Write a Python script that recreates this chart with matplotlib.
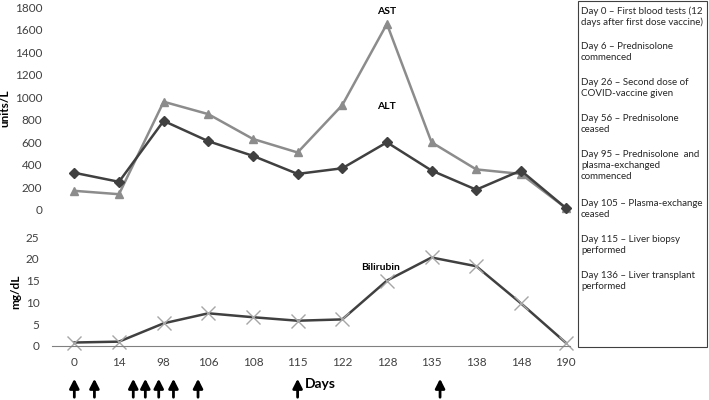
import numpy as np
import matplotlib.pyplot as plt
from matplotlib.patches import Rectangle

plt.rcParams['font.family'] = ['Lato', 'DejaVu Sans']

# data
days = ['0', '14', '98', '106', '108', '115', '122', '128', '135', '138', '148', '190']
alt = [330, 250, 790, 610, 480, 320, 370, 600, 350, 180, 350, 20]
ast = [170, 140, 960, 850, 630, 510, 930, 1650, 600, 360, 320, 20]
bilirubin = [0.8, 1.0, 5.2, 7.5, 6.6, 5.8, 6.1, 15.0, 20.3, 18.3, 9.8, 0.8]
# arrow positions on the category axis
event_pos = [0, 0.45, 1.32, 1.59, 1.89, 2.22, 2.77, 5.0, 8.19]
notes = [
    'Day 0 \u2013 First blood tests (12\ndays after first dose vaccine)',
    'Day 6 \u2013 Prednisolone\ncommenced',
    'Day 26 \u2013 Second dose of\nCOVID-vaccine given',
    'Day 56 \u2013 Prednisolone\nceased',
    'Day 95 \u2013 Prednisolone  and\nplasma-exchanged\ncommenced',
    'Day 105 \u2013 Plasma-exchange\nceased',
    'Day 115 \u2013 Liver biopsy\nperformed',
    'Day 136 \u2013 Liver transplant\nperformed',
]

W, H = 709, 400
fig = plt.figure(figsize=(W / 100, H / 100), dpi=100)

def fx(px):
    return px / W

def fy(py):
    return 1 - py / H

x = np.arange(len(days))
xl = (-0.5, 11.1)
left, right = fx(52), fx(570)

# top panel
ax1 = fig.add_axes([left, fy(210), right - left, fy(7) - fy(210)])
ax1.plot(x, ast, color='#8c8c8c', lw=1.8, marker='^', ms=6, clip_on=False)
ax1.plot(x, alt, color='#404040', lw=1.8, marker='D', ms=5, clip_on=False)
ax1.set_xlim(xl)
ax1.set_ylim(0, 1800)
ax1.set_yticks(range(0, 1801, 200))
ax1.set_xticks([])
for s in ax1.spines.values():
    s.set_visible(False)
ax1.tick_params(axis='y', length=0, labelsize=8.5, pad=7, colors='#404040')
ax1.set_ylabel('units/L', fontweight='bold', fontsize=8.5, labelpad=3)
ax1.text(7, 1720, 'AST', ha='center', va='bottom', fontweight='bold', fontsize=7.5)
ax1.text(7, 880, 'ALT', ha='center', va='bottom', fontweight='bold', fontsize=7.5)

# bottom panel
ax2 = fig.add_axes([left, fy(346), right - left, fy(237) - fy(346)])
ax2.plot(x, bilirubin, color='#404040', lw=1.8, marker='x', ms=10,
         mec='#a6a6a6', mew=1, clip_on=False)
ax2.set_xlim(xl)
ax2.set_ylim(0, 25)
ax2.set_yticks(range(0, 26, 5))
ax2.set_xticks(x)
ax2.set_xticklabels(days)
for s in ['top', 'right', 'left']:
    ax2.spines[s].set_visible(False)
ax2.spines['bottom'].set_color('#808080')
ax2.tick_params(axis='both', length=0, labelsize=8.5, colors='#404040')
ax2.tick_params(axis='y', pad=9)
ax2.tick_params(axis='x', pad=8)
ax2.set_ylabel('mg/dL', fontweight='bold', fontsize=8.5, labelpad=3)
ax2.text(6.85, 18.1, 'Bilirubin', ha='center', va='center', fontweight='bold', fontsize=7.5)

# event arrows
for p in event_pos:
    ax2.annotate('', xy=(p, fy(376)), xytext=(p, 0.0),
                 xycoords=('data', 'figure fraction'),
                 textcoords=('data', 'figure fraction'),
                 arrowprops=dict(arrowstyle='-|>,head_width=0.28,head_length=0.55',
                                 color='black', lw=2))
fig.text(fx(305), fy(384), 'Days', fontweight='bold', fontsize=10, va='center')

# notes box
fig.patches.append(Rectangle((fx(578), fy(347)), fx(707) - fx(578), fy(1) - fy(347),
                             transform=fig.transFigure, fill=False,
                             ec='#404040', lw=0.8))
y = 6
for n in notes:
    fig.text(fx(581), fy(y), n, fontsize=7.0, va='top', ha='left',
             color='#262626', linespacing=1.3)
    nl = n.count('\n') + 1
    y += nl * 12.5 + 11

fig.savefig('out.png', dpi=100)
